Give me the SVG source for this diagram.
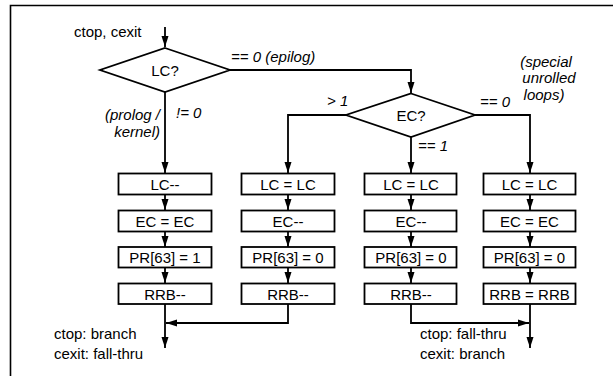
<svg xmlns="http://www.w3.org/2000/svg" width="613" height="376" viewBox="0 0 613 376">
<defs>
<marker id="ah" viewBox="0 0 11 8" refX="11" refY="4" markerWidth="11" markerHeight="8" markerUnits="userSpaceOnUse" orient="auto">
<path d="M0,0.5 L11,4 L0,7.5 Z" fill="#000"/>
</marker>
</defs>
<style>
text{font-family:"Liberation Sans",Arial,sans-serif;font-size:15px;fill:#000}
.c{text-anchor:middle}
.i{font-style:italic}
.r{text-anchor:end}
.box{fill:#fff;stroke:#000;stroke-width:1.8}
.dia{fill:#fff;stroke:#000;stroke-width:1.8}
.ln{fill:none;stroke:#000;stroke-width:1.8}
</style>
<rect x="0" y="0" width="613" height="376" fill="#fff"/>
<path d="M10.5,376 L10.5,5.5 L613,5.5" fill="none" stroke="#000" stroke-width="1.6"/>

<g id="connectors">
<path class="ln" d="M165,27 L165,47" marker-end="url(#ah)"/>
<path class="ln" d="M165,92 L165,173" marker-end="url(#ah)"/>
<path class="ln" d="M230,70 L411,70 L411,93" marker-end="url(#ah)"/>
<path class="ln" d="M346,115 L288,115 L288,173" marker-end="url(#ah)"/>
<path class="ln" d="M411,137 L411,173" marker-end="url(#ah)"/>
<path class="ln" d="M475,115 L530,115 L530,173" marker-end="url(#ah)"/>
<path class="ln" d="M165,195 L165,210" marker-end="url(#ah)"/>
<path class="ln" d="M165,231 L165,247" marker-end="url(#ah)"/>
<path class="ln" d="M165,267 L165,283" marker-end="url(#ah)"/>
<path class="ln" d="M288,195 L288,210" marker-end="url(#ah)"/>
<path class="ln" d="M288,231 L288,247" marker-end="url(#ah)"/>
<path class="ln" d="M288,267 L288,283" marker-end="url(#ah)"/>
<path class="ln" d="M411,195 L411,210" marker-end="url(#ah)"/>
<path class="ln" d="M411,231 L411,247" marker-end="url(#ah)"/>
<path class="ln" d="M411,267 L411,283" marker-end="url(#ah)"/>
<path class="ln" d="M530,195 L530,210" marker-end="url(#ah)"/>
<path class="ln" d="M530,231 L530,247" marker-end="url(#ah)"/>
<path class="ln" d="M530,267 L530,283" marker-end="url(#ah)"/>
<path class="ln" d="M165,304 L165,348" marker-end="url(#ah)"/>
<path class="ln" d="M288,304 L288,323 L166,323" marker-end="url(#ah)"/>
<path class="ln" d="M530,304 L530,348" marker-end="url(#ah)"/>
<path class="ln" d="M411,304 L411,323 L529,323" marker-end="url(#ah)"/>
</g>

<g id="start"><text x="74" y="37" font-size="15.5">ctop, cexit</text></g>

<g id="lc-decision">
<polygon class="dia" points="165,48 230,70 165,92 100,70"/>
<text class="c" x="165" y="76">LC?</text>
</g>

<g id="ec-decision">
<polygon class="dia" points="411,93.5 475,115 411,137 346,115"/>
<text class="c" x="411" y="121">EC?</text>
</g>

<g id="labels">
<text class="i" x="231" y="62">== 0 (epilog)</text>
<text class="i r" x="160" y="120">(prolog /</text>
<text class="i r" x="160" y="137">kernel)</text>
<text class="i" x="176" y="118">!= 0</text>
<text class="i" x="327" y="106">&gt; 1</text>
<text class="i" x="480" y="107">== 0</text>
<text class="i" x="418" y="151">== 1</text>
<text class="i c" x="546" y="67">(special</text>
<text class="i c" x="549" y="83">unrolled</text>
<text class="i c" x="544" y="100">loops)</text>
</g>

<g id="col1">
<rect class="box" x="118.5" y="173.5" width="93" height="21"/><text class="c" x="165" y="190">LC--</text>
<rect class="box" x="118.5" y="210.5" width="93" height="21"/><text class="c" x="165" y="227">EC = EC</text>
<rect class="box" x="118.5" y="247" width="93" height="20.5"/><text class="c" x="165" y="263">PR[63] = 1</text>
<rect class="box" x="118.5" y="283.5" width="93" height="20.5"/><text class="c" x="165" y="300">RRB--</text>
</g>
<g id="col2">
<rect class="box" x="241.5" y="173.5" width="93" height="21"/><text class="c" x="288" y="190">LC = LC</text>
<rect class="box" x="241.5" y="210.5" width="93" height="21"/><text class="c" x="288" y="227">EC--</text>
<rect class="box" x="241.5" y="247" width="93" height="20.5"/><text class="c" x="288" y="263">PR[63] = 0</text>
<rect class="box" x="241.5" y="283.5" width="93" height="20.5"/><text class="c" x="288" y="300">RRB--</text>
</g>
<g id="col3">
<rect class="box" x="364.5" y="173.5" width="92" height="21"/><text class="c" x="411" y="190">LC = LC</text>
<rect class="box" x="364.5" y="210.5" width="92" height="21"/><text class="c" x="411" y="227">EC--</text>
<rect class="box" x="364.5" y="247" width="92" height="20.5"/><text class="c" x="411" y="263">PR[63] = 0</text>
<rect class="box" x="364.5" y="283.5" width="92" height="20.5"/><text class="c" x="411" y="300">RRB--</text>
</g>
<g id="col4">
<rect class="box" x="483.5" y="173.5" width="92" height="21"/><text class="c" x="529.5" y="190">LC = LC</text>
<rect class="box" x="483.5" y="210.5" width="92" height="21"/><text class="c" x="529.5" y="227">EC = EC</text>
<rect class="box" x="483.5" y="247" width="92" height="20.5"/><text class="c" x="529.5" y="263">PR[63] = 0</text>
<rect class="box" x="483.5" y="283.5" width="92" height="20.5"/><text class="c" x="529.5" y="300">RRB = RRB</text>
</g>

<g id="exit-left">
<text x="54" y="339" font-size="15.5">ctop: branch</text>
<text x="54" y="359" font-size="15.5">cexit: fall-thru</text>
</g>
<g id="exit-right">
<text x="420" y="339" font-size="15.5">ctop: fall-thru</text>
<text x="420" y="359" font-size="15.5">cexit: branch</text>
</g>
</svg>
